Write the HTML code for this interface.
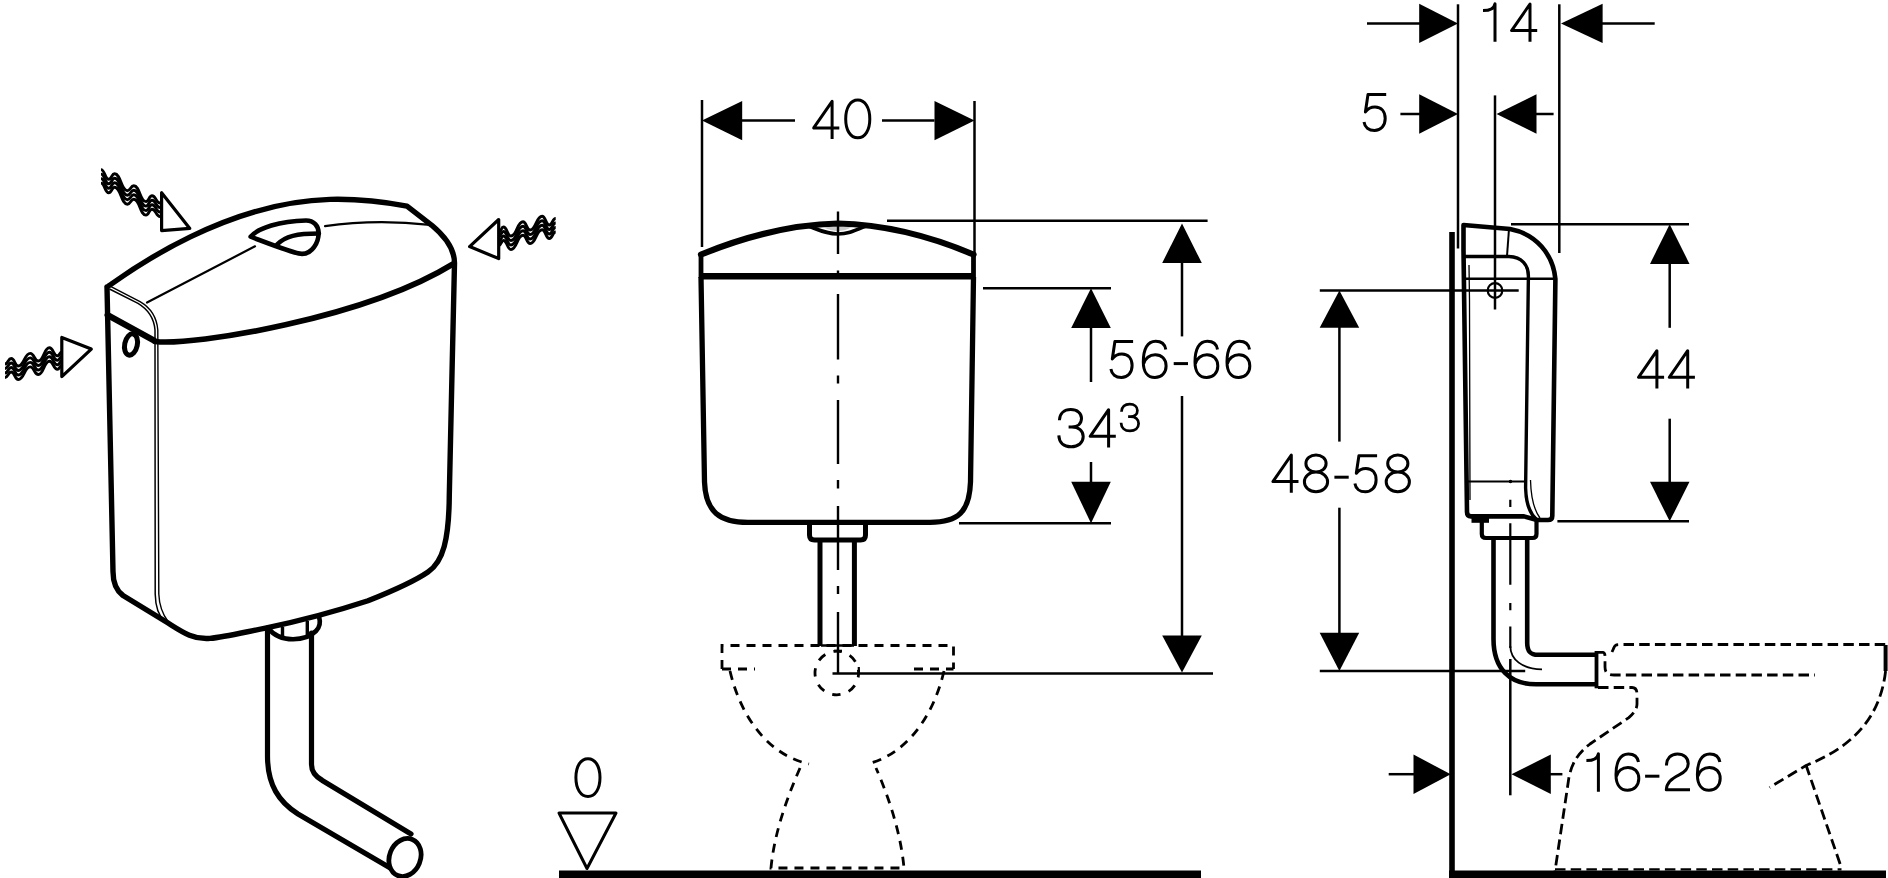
<!DOCTYPE html>
<html><head><meta charset="utf-8"><style>
html,body{margin:0;padding:0;background:#fff;}
svg{display:block;}
</style></head><body>
<svg width="1888" height="878" viewBox="0 0 1888 878">
<g stroke="#000" fill="none" stroke-linecap="butt">
<line x1="702" y1="100" x2="702" y2="247" stroke-width="2.5"/>
<line x1="974.5" y1="101" x2="974.5" y2="254" stroke-width="2.5"/>
<polygon points="702,120.6 742.2,100.9 742.2,140.2" fill="#000" stroke="none"/>
<polygon points="974.5,120.6 934.5,100.9 934.5,140.2" fill="#000" stroke="none"/>
<line x1="742" y1="120.6" x2="795" y2="120.6" stroke-width="2.5"/>
<line x1="882" y1="120.6" x2="934.5" y2="120.6" stroke-width="2.5"/>
<path transform="translate(812,99.6) scale(1.0)" d="M20.1,39.4 V1.7 L1.7,28.3 H27.3" stroke-width="3" stroke-linejoin="round" fill="none"/>
<path transform="translate(844.1,99.3) scale(1.0)" d="M13.7,0.7 C20.9,0.7 25.7,8.3 25.7,19.6 C25.7,30.9 20.9,38.5 13.7,38.5 C6.4,38.5 1.6,30.9 1.6,19.6 C1.6,8.3 6.4,0.7 13.7,0.7 Z" stroke-width="3" stroke-linejoin="round" fill="none"/>
<path d="M701,278 L701,256" stroke-width="4.8" />
<path d="M973.5,278 L973.5,256" stroke-width="4.8" />
<path d="M701,254.5 C745,236.5 790,224.5 838,223.5 C886,224.5 931,236.5 973.5,254.5" stroke-width="6.2" stroke-linejoin="round" stroke-linecap="round"/>
<path d="M822,227 C830,230 834,231 838,231 C842,231 846,230 852,227 Z" fill="#c8c8c8" stroke="none"/>
<path d="M808,226 C822,231 828,234 838,234 C848,234 854,231 866,226" stroke-width="3.6" />
<line x1="700" y1="276.2" x2="975" y2="276.2" stroke-width="6.4"/>
<path d="M701,277 L704.5,482 C705.5,512 720,522.3 748,522.3 L930,522.3 C958,522.3 969.5,512 970.5,482 L973.5,277" stroke-width="5.3" />
<path d="M838,211.6 L838,254 M838,270.5 L838,278 M838,294 L838,359.5 M838,375.4 L838,383.6 M838,400 L838,464 M838,480 L838,488.5 M838,506 L838,570 M838,586 L838,594 M838,612 L838,673.5" stroke-width="2.4"/>
<path d="M809.5,522 L809.5,535 Q809.5,540 814.5,540 L860.5,540 Q865.5,540 865.5,535 L865.5,522" stroke-width="5" />
<line x1="820" y1="541" x2="820" y2="646" stroke-width="5"/>
<line x1="854.4" y1="541" x2="854.4" y2="646" stroke-width="5"/>
<path d="M722,669 L722,645.5 L953.5,645.5 L953.5,669" stroke-width="2.8" stroke-dasharray="9 7" fill="none"/>
<path d="M722,669 L755,669" stroke-width="2.8" stroke-dasharray="9 7" fill="none"/>
<path d="M914,669 L953.5,669" stroke-width="2.8" stroke-dasharray="9 7" fill="none"/>
<path d="M730,671 C742,722 772,756 809,764" stroke-width="2.8" stroke-dasharray="9 7" fill="none"/>
<path d="M944,671 C932,722 902,756 867,764" stroke-width="2.8" stroke-dasharray="9 7" fill="none"/>
<path d="M800,768 C786,800 774,835 771,868 L904,868 C901,835 890,800 876,768" stroke-width="2.8" stroke-dasharray="9 7" fill="none"/>
<circle cx="836.8" cy="673" r="21.8" stroke-width="2.8" stroke-dasharray="8.5 8.6" stroke-dashoffset="4" fill="none"/>
<line x1="832.5" y1="673.5" x2="1213" y2="673.5" stroke-width="2.5"/>
<line x1="821" y1="645.5" x2="854" y2="645.5" stroke-width="2.4"/>
<line x1="834" y1="651" x2="842" y2="651" stroke-width="2.6"/>
<line x1="858.8" y1="667" x2="858.8" y2="674" stroke-width="2.2"/>
<rect x="559" y="870.5" width="642" height="8" fill="#000" stroke="none"/>
<polygon points="559,813 616,813 587,868.5" fill="none" stroke-width="3" stroke-linejoin="round"/>
<path transform="translate(574.3,758) scale(1.0)" d="M13.7,0.7 C20.9,0.7 25.7,8.3 25.7,19.6 C25.7,30.9 20.9,38.5 13.7,38.5 C6.4,38.5 1.6,30.9 1.6,19.6 C1.6,8.3 6.4,0.7 13.7,0.7 Z" stroke-width="3" stroke-linejoin="round" fill="none"/>
<line x1="887" y1="220.8" x2="1207.6" y2="220.8" stroke-width="2.5"/>
<polygon points="1182,223.5 1162.2,263 1201.8,263" fill="#000" stroke="none"/>
<line x1="1182" y1="262" x2="1182" y2="336.4" stroke-width="2.5"/>
<line x1="1182" y1="396" x2="1182" y2="636" stroke-width="2.5"/>
<polygon points="1182,672.4 1162.2,635.4 1201.8,635.4" fill="#000" stroke="none"/>
<path transform="translate(1109.3,339.7) scale(1.0)" d="M23.8,1.8 H5.6 L3,19.3 C5.4,15.9 8.9,14.4 12.6,14.4 C19,14.4 22.8,19 22.8,25.9 C22.8,33.2 18.3,37.8 12.1,37.8 C6.4,37.8 2.4,34.6 1.6,29.4" stroke-width="3" stroke-linejoin="round" fill="none"/>
<path transform="translate(1141.5,339.7) scale(1.0)" d="M24.3,9.7 C23.4,4.6 19.6,1.6 14.2,1.6 C5.9,1.6 1.8,9.4 1.8,22.4 C1.8,32.6 6.4,37.9 13.4,37.9 C20.2,37.9 24.6,33 24.6,26.3 C24.6,19.4 20.2,15.1 13.7,15.1 C8.2,15.1 3.4,18.6 2.2,24" stroke-width="3" stroke-linejoin="round" fill="none"/>
<path transform="translate(1173.7,339.7) scale(1.0)" d="M0,23.9 H14.3" stroke-width="3" stroke-linejoin="round" fill="none"/>
<path transform="translate(1193.2,339.7) scale(1.0)" d="M24.3,9.7 C23.4,4.6 19.6,1.6 14.2,1.6 C5.9,1.6 1.8,9.4 1.8,22.4 C1.8,32.6 6.4,37.9 13.4,37.9 C20.2,37.9 24.6,33 24.6,26.3 C24.6,19.4 20.2,15.1 13.7,15.1 C8.2,15.1 3.4,18.6 2.2,24" stroke-width="3" stroke-linejoin="round" fill="none"/>
<path transform="translate(1225.2,339.7) scale(1.0)" d="M24.3,9.7 C23.4,4.6 19.6,1.6 14.2,1.6 C5.9,1.6 1.8,9.4 1.8,22.4 C1.8,32.6 6.4,37.9 13.4,37.9 C20.2,37.9 24.6,33 24.6,26.3 C24.6,19.4 20.2,15.1 13.7,15.1 C8.2,15.1 3.4,18.6 2.2,24" stroke-width="3" stroke-linejoin="round" fill="none"/>
<line x1="983" y1="288.2" x2="1111" y2="288.2" stroke-width="2.5"/>
<polygon points="1091,288.2 1071.2,328 1110.8,328" fill="#000" stroke="none"/>
<line x1="1091" y1="328" x2="1091" y2="382" stroke-width="2.5"/>
<line x1="1091" y1="462" x2="1091" y2="482" stroke-width="2.5"/>
<polygon points="1091,523.3 1071.2,481.7 1110.8,481.7" fill="#000" stroke="none"/>
<line x1="959" y1="523.3" x2="1111" y2="523.3" stroke-width="2.5"/>
<path transform="translate(1057.2,408) scale(1.0)" d="M2.2,12.2 C2.5,5.4 7,1.6 13.6,1.6 C20.2,1.6 24.3,5.4 24.3,10.3 C24.3,15.6 20.4,18.9 14.6,18.9 H11.4 M14.6,18.9 C21.6,18.9 26,22.8 26,28.6 C26,34.8 21,38.8 14,38.8 C6.6,38.8 1.9,34.6 1.6,27.4" stroke-width="3" stroke-linejoin="round" fill="none"/>
<path transform="translate(1088.5,408) scale(1.0)" d="M20.1,39.4 V1.7 L1.7,28.3 H27.3" stroke-width="3" stroke-linejoin="round" fill="none"/>
<path transform="translate(1119.9,403) scale(0.72)" d="M2.2,12.2 C2.5,5.4 7,1.6 13.6,1.6 C20.2,1.6 24.3,5.4 24.3,10.3 C24.3,15.6 20.4,18.9 14.6,18.9 H11.4 M14.6,18.9 C21.6,18.9 26,22.8 26,28.6 C26,34.8 21,38.8 14,38.8 C6.6,38.8 1.9,34.6 1.6,27.4" stroke-width="3.8" stroke-linejoin="round" fill="none"/>
<line x1="1452" y1="232" x2="1452" y2="873" stroke-width="5.6"/>
<rect x="1449" y="870.5" width="437" height="8" fill="#000" stroke="none"/>
<line x1="1458" y1="4.3" x2="1458" y2="248.5" stroke-width="2.5"/>
<line x1="1495" y1="95.4" x2="1495" y2="309.5" stroke-width="2.5"/>
<line x1="1559.3" y1="4.3" x2="1559.3" y2="253" stroke-width="2.5"/>
<line x1="1367" y1="23.4" x2="1420" y2="23.4" stroke-width="2.5"/>
<polygon points="1458,23.4 1419.2,3.8 1419.2,43" fill="#000" stroke="none"/>
<polygon points="1561,23.4 1602.6,3.8 1602.6,43" fill="#000" stroke="none"/>
<line x1="1602" y1="23.4" x2="1654.7" y2="23.4" stroke-width="2.5"/>
<path transform="translate(1483,2.3) scale(1.0)" d="M12,39.4 V1.4 C11.2,6.5 7.5,8.3 0,8.3" stroke-width="3" stroke-linejoin="round" fill="none"/>
<path transform="translate(1509.9,2.3) scale(1.0)" d="M20.1,39.4 V1.7 L1.7,28.3 H27.3" stroke-width="3" stroke-linejoin="round" fill="none"/>
<line x1="1400.4" y1="114" x2="1420" y2="114" stroke-width="2.5"/>
<polygon points="1458,114 1419.2,94.3 1419.2,133.7" fill="#000" stroke="none"/>
<polygon points="1496.5,114 1536.5,94.3 1536.5,133.7" fill="#000" stroke="none"/>
<line x1="1536" y1="114" x2="1553.6" y2="114" stroke-width="2.5"/>
<path transform="translate(1362.4,92.7) scale(1.0)" d="M23.8,1.8 H5.6 L3,19.3 C5.4,15.9 8.9,14.4 12.6,14.4 C19,14.4 22.8,19 22.8,25.9 C22.8,33.2 18.3,37.8 12.1,37.8 C6.4,37.8 2.4,34.6 1.6,29.4" stroke-width="3" stroke-linejoin="round" fill="none"/>
<line x1="1511" y1="224.2" x2="1689" y2="224.2" stroke-width="2.5"/>
<polygon points="1669.7,224.2 1650,263.9 1689.5,263.9" fill="#000" stroke="none"/>
<line x1="1669.7" y1="263" x2="1669.7" y2="327.8" stroke-width="2.5"/>
<line x1="1669.7" y1="418.7" x2="1669.7" y2="482" stroke-width="2.5"/>
<polygon points="1669.7,521.3 1650,481.8 1689.5,481.8" fill="#000" stroke="none"/>
<line x1="1557.4" y1="521.3" x2="1689" y2="521.3" stroke-width="2.5"/>
<path transform="translate(1636.8,349) scale(1.0)" d="M20.1,39.4 V1.7 L1.7,28.3 H27.3" stroke-width="3" stroke-linejoin="round" fill="none"/>
<path transform="translate(1667.6,349) scale(1.0)" d="M20.1,39.4 V1.7 L1.7,28.3 H27.3" stroke-width="3" stroke-linejoin="round" fill="none"/>
<line x1="1319.8" y1="290.6" x2="1518.7" y2="290.6" stroke-width="2.5"/>
<line x1="1319.8" y1="671" x2="1525.2" y2="671" stroke-width="2.5"/>
<polygon points="1339.4,290.6 1319.7,327.8 1359.2,327.8" fill="#000" stroke="none"/>
<line x1="1339.4" y1="327" x2="1339.4" y2="441.6" stroke-width="2.5"/>
<line x1="1339.4" y1="507.7" x2="1339.4" y2="633" stroke-width="2.5"/>
<polygon points="1339.4,671 1319.7,632.7 1359.2,632.7" fill="#000" stroke="none"/>
<path transform="translate(1271.2,453.3) scale(1.0)" d="M20.1,39.4 V1.7 L1.7,28.3 H27.3" stroke-width="3" stroke-linejoin="round" fill="none"/>
<path transform="translate(1302.8,453.3) scale(1.0)" d="M13.2,1.6 C18.9,1.6 23.3,5.4 23.3,10.2 C23.3,15 18.9,18.8 13.2,18.8 C7.5,18.8 3.1,15 3.1,10.2 C3.1,5.4 7.5,1.6 13.2,1.6 Z M13.2,18.8 C19.7,18.8 24.8,23.1 24.8,28.6 C24.8,34.1 19.7,38.4 13.2,38.4 C6.7,38.4 1.6,34.1 1.6,28.6 C1.6,23.1 6.7,18.8 13.2,18.8 Z" stroke-width="3" stroke-linejoin="round" fill="none"/>
<path transform="translate(1334.4,453.3) scale(1.0)" d="M0,23.9 H14.3" stroke-width="3" stroke-linejoin="round" fill="none"/>
<path transform="translate(1353.3,454) scale(1.0)" d="M23.8,1.8 H5.6 L3,19.3 C5.4,15.9 8.9,14.4 12.6,14.4 C19,14.4 22.8,19 22.8,25.9 C22.8,33.2 18.3,37.8 12.1,37.8 C6.4,37.8 2.4,34.6 1.6,29.4" stroke-width="3" stroke-linejoin="round" fill="none"/>
<path transform="translate(1384.6,453.3) scale(1.0)" d="M13.2,1.6 C18.9,1.6 23.3,5.4 23.3,10.2 C23.3,15 18.9,18.8 13.2,18.8 C7.5,18.8 3.1,15 3.1,10.2 C3.1,5.4 7.5,1.6 13.2,1.6 Z M13.2,18.8 C19.7,18.8 24.8,23.1 24.8,28.6 C24.8,34.1 19.7,38.4 13.2,38.4 C6.7,38.4 1.6,34.1 1.6,28.6 C1.6,23.1 6.7,18.8 13.2,18.8 Z" stroke-width="3" stroke-linejoin="round" fill="none"/>
<line x1="1388.7" y1="774.2" x2="1414" y2="774.2" stroke-width="2.5"/>
<polygon points="1450.7,774.2 1413.5,754.6 1413.5,793.9" fill="#000" stroke="none"/>
<line x1="1510.3" y1="659" x2="1510.3" y2="795.3" stroke-width="2.5"/>
<polygon points="1511.5,774.2 1550.8,754.6 1550.8,793.9" fill="#000" stroke="none"/>
<line x1="1550" y1="774.2" x2="1562.4" y2="774.2" stroke-width="2.5"/>
<path transform="translate(1586.4,752.3) scale(1.0)" d="M12,39.4 V1.4 C11.2,6.5 7.5,8.3 0,8.3" stroke-width="3" stroke-linejoin="round" fill="none"/>
<path transform="translate(1614.2,752.3) scale(1.0)" d="M24.3,9.7 C23.4,4.6 19.6,1.6 14.2,1.6 C5.9,1.6 1.8,9.4 1.8,22.4 C1.8,32.6 6.4,37.9 13.4,37.9 C20.2,37.9 24.6,33 24.6,26.3 C24.6,19.4 20.2,15.1 13.7,15.1 C8.2,15.1 3.4,18.6 2.2,24" stroke-width="3" stroke-linejoin="round" fill="none"/>
<path transform="translate(1645.1,752.3) scale(1.0)" d="M0,23.9 H14.3" stroke-width="3" stroke-linejoin="round" fill="none"/>
<path transform="translate(1664.6,752.3) scale(1.0)" d="M1.9,13.3 C1.9,6.2 6.3,1.6 12.8,1.6 C19.4,1.6 23.6,5.8 23.6,11.4 C23.6,16.6 20.5,19.6 14.6,22.6 C6.3,26.8 2.2,30.6 1.7,37.5 H25.4" stroke-width="3" stroke-linejoin="round" fill="none"/>
<path transform="translate(1695.6,752.3) scale(1.0)" d="M24.3,9.7 C23.4,4.6 19.6,1.6 14.2,1.6 C5.9,1.6 1.8,9.4 1.8,22.4 C1.8,32.6 6.4,37.9 13.4,37.9 C20.2,37.9 24.6,33 24.6,26.3 C24.6,19.4 20.2,15.1 13.7,15.1 C8.2,15.1 3.4,18.6 2.2,24" stroke-width="3" stroke-linejoin="round" fill="none"/>
<path d="M1463.5,250 L1463.5,225 L1510,229 C1536,234 1553,254 1555.4,279 L1552.3,516 Q1552.3,520 1548,520 L1537,520 L1524,516.4 L1471,516.4 Q1467,516.4 1467,512 L1463.5,250" stroke-width="4.6" stroke-linejoin="round"/>
<path d="M1463.5,256.5 L1509,256.5 C1522,257 1528.4,265 1528.4,276 L1525.6,488 C1526,505 1530,514 1537,520" stroke-width="3.4" />
<path d="M1469,265 L1469.5,300 L1470,500" stroke-width="1.3" />
<path d="M1530.5,480 C1531,500 1534,510 1540,518" stroke-width="1.3" />
<line x1="1509" y1="229" x2="1507" y2="256" stroke-width="2"/>
<line x1="1463.5" y1="278.8" x2="1555.4" y2="278.8" stroke-width="2.6"/>
<circle cx="1495" cy="290.5" r="7.3" stroke-width="2.2" fill="none"/>
<line x1="1467" y1="481.5" x2="1525" y2="481.5" stroke-width="1.8"/>
<circle cx="1510.5" cy="481.5" r="1.8" fill="#000" stroke="none"/>
<rect x="1471.5" y="517" width="17.5" height="5.8" fill="#000" stroke="none"/>
<path d="M1510.3,499.7 L1510.3,506.9 M1510.3,523.3 L1510.3,584.7 M1510.3,602.9 L1510.3,610.2 M1510.3,626.6 L1510.3,648" stroke-width="2.2"/>
<path d="M1510.3,646 C1510.5,660 1522,668.5 1542,669.4" stroke-width="1.8" />
<path d="M1481.8,520 L1481.8,534 Q1481.8,538 1486,538 L1532.5,538 Q1536.5,538 1536.5,534 L1536.5,520" stroke-width="4.2" />
<path d="M1493.5,538 L1493.5,639 C1493.5,669 1510,684.3 1536,684.3 L1596,684.3" stroke-width="4.6" />
<path d="M1527.2,538 L1527.2,643 C1527.2,651 1530,654.8 1538,654.8 L1596,654.8" stroke-width="4.6" />
<rect x="1594.6" y="651" width="3.8" height="37.3" fill="#000" stroke="none"/>
<path d="M1612,652 L1614,647.5 C1614.5,645.5 1616,644.5 1619,644.5 L1888,644.5" stroke-width="2.8" stroke-dasharray="10.5 5.2" fill="none"/>
<path d="M1597,652.4 L1603,652.4 C1604.6,652.6 1605,654 1605,657 L1605,667 C1605,673 1608,675 1614,675 L1815,675" stroke-width="2.8" stroke-dasharray="10.5 5.2" fill="none"/>
<line x1="1885.6" y1="645" x2="1885.6" y2="671" stroke-width="4"/>
<path d="M1885.6,671 C1880,720 1850,748 1806,765.5 L1769.5,787.5" stroke-width="2.8" stroke-dasharray="10.5 5.2" fill="none"/>
<path d="M1806,765 L1841.5,868" stroke-width="2.8" stroke-dasharray="10.5 5.2" fill="none"/>
<path d="M1598,687.5 L1632,687.5 C1636,687.5 1637,690 1637,695 L1637,704 C1637,709 1634,713 1628.8,717.6 L1590,744 C1578,753 1572,763 1569,777 L1555,871" stroke-width="2.8" stroke-dasharray="10.5 5.2" fill="none"/>
<path d="M1555,869.4 L1841.5,869.4" stroke-width="2.4" stroke-dasharray="10.5 5.2" fill="none"/>
<path d="M107,287 C112,284.5 215,202.5 330,199.4 C355,198.8 385,202 407,206.2 L431.8,225.3 C447,238 454.5,250 454.5,263 L452.3,360 L449.3,495 C449,540 443,562 428,572 C412,583 385,594 368,600.8 C340,610 300,621 265.4,628.1 C245,632 225,637 210,638.4 C192,640 180,630.3 165.6,621.5 L123,595.5 C116.5,590.5 113,583 113,571.4 L107,287" stroke-width="5.4" stroke-linejoin="round" stroke-linecap="round"/>
<path d="M155,341.5 C193.4,346.2 364.9,318.2 453,264" stroke-width="5.6" stroke-linejoin="round" stroke-linecap="round"/>
<path d="M107.5,315 L154,340.5" stroke-width="6" stroke-linejoin="round" stroke-linecap="round"/>
<path d="M109.5,289 L138,303.4 C149,310 154,318 155,330 L155.2,594 C155.5,608 159,616 164.5,621" stroke-width="1.5" fill="none"/>
<path d="M111,286.6 L140,301.6 C151,308 156.8,317 157.8,330 L158.8,594 C159.3,606 162.5,614 168,621.5" stroke-width="1.4" fill="none"/>
<path d="M147,302.5 L255,246.3" stroke-width="2.2" stroke-linejoin="round" stroke-linecap="round"/>
<path d="M325,226.2 C360,221 395,221 430,224.8" stroke-width="2.2" stroke-linejoin="round" stroke-linecap="round"/>
<path d="M250.6,236.7 C258,228 280,221 306,220.5 C314,220.5 318.6,226 318.6,233 C318.6,243 312,253.9 302,253.9 C295,253.9 270,244 250.6,236.7 Z" stroke-width="4.6" stroke-linejoin="round" stroke-linecap="round"/>
<path d="M277,244.6 C285,236 297,233.5 319,233.5" stroke-width="4.4" stroke-linejoin="round" stroke-linecap="round"/>
<ellipse cx="131" cy="344.5" rx="6.3" ry="10.8" stroke-width="5" fill="none" transform="rotate(12 131 344.5)"/>
<path d="M268,628 C275,637 285,639.2 293,639.2 C302,639.2 310,637 316,631 C320,627 320.5,622 319.2,617.5" stroke-width="4.6" stroke-linejoin="round" stroke-linecap="round"/>
<line x1="282.5" y1="627" x2="282.5" y2="636" stroke-width="3.4"/>
<line x1="307.3" y1="621" x2="307.3" y2="636" stroke-width="3.4"/>
<path d="M267.5,628 L267.5,756 C267.5,785 279,802 298,814 L392,869" stroke-width="5.2" stroke-linejoin="round" stroke-linecap="round"/>
<path d="M311.5,633 L311.5,764.6 C311.5,772 316,777 322.3,780.4 L411,834" stroke-width="5.2" stroke-linejoin="round" stroke-linecap="round"/>
<ellipse cx="405" cy="857.5" rx="15.5" ry="19.5" stroke-width="4.8" fill="#fff" transform="rotate(22 405 857.5)"/>
<path d="M101,169.6 C104.8,169.6 104.8,179.3 108.7,179.3 C111.7,179.3 111.7,173.8 114.6,173.8 C121,173.8 121,190.7 127.4,190.7 C130.6,190.7 130.6,185.7 133.8,185.7 C139.9,185.7 139.9,201.6 146,201.6 C149,201.6 149,195.7 152,195.7 C156,195.7 156,203 160,203" stroke-width="2.9" fill="none"/>
<path d="M101,174.1 C104.8,174.1 104.8,183.8 108.7,183.8 C111.7,183.8 111.7,178.3 114.6,178.3 C121,178.3 121,195.2 127.4,195.2 C130.6,195.2 130.6,190.2 133.8,190.2 C139.9,190.2 139.9,206.1 146,206.1 C149,206.1 149,200.2 152,200.2 C156,200.2 156,207.5 160,207.5" stroke-width="2.9" fill="none"/>
<path d="M101,178.6 C104.8,178.6 104.8,188.3 108.7,188.3 C111.7,188.3 111.7,182.8 114.6,182.8 C121,182.8 121,199.7 127.4,199.7 C130.6,199.7 130.6,194.7 133.8,194.7 C139.9,194.7 139.9,210.6 146,210.6 C149,210.6 149,204.7 152,204.7 C156,204.7 156,212 160,212" stroke-width="2.9" fill="none"/>
<path d="M101,183.1 C104.8,183.1 104.8,192.8 108.7,192.8 C111.7,192.8 111.7,187.3 114.6,187.3 C121,187.3 121,204.2 127.4,204.2 C130.6,204.2 130.6,199.2 133.8,199.2 C139.9,199.2 139.9,215.1 146,215.1 C149,215.1 149,209.2 152,209.2 C156,209.2 156,216.5 160,216.5" stroke-width="2.9" fill="none"/>
<polygon points="161.6,192.8 161.6,230.6 189.8,228.4" fill="none" stroke-width="3.2" stroke-linejoin="round"/>
<path d="M499,232 C501.2,232 501.2,227 503.4,227 C507.2,227 507.2,236 511,236 C517,236 517,221.8 523,221.8 C526.5,221.8 526.5,230 530.1,230 C536.1,230 536.1,216.2 542.1,216.2 C545.7,216.2 545.7,225 549.3,225 C552.5,225 552.5,218.5 555.7,218.5" stroke-width="2.9" fill="none"/>
<path d="M499,236.5 C501.2,236.5 501.2,231.5 503.4,231.5 C507.2,231.5 507.2,240.5 511,240.5 C517,240.5 517,226.3 523,226.3 C526.5,226.3 526.5,234.5 530.1,234.5 C536.1,234.5 536.1,220.7 542.1,220.7 C545.7,220.7 545.7,229.5 549.3,229.5 C552.5,229.5 552.5,223 555.7,223" stroke-width="2.9" fill="none"/>
<path d="M499,241 C501.2,241 501.2,236 503.4,236 C507.2,236 507.2,245 511,245 C517,245 517,230.8 523,230.8 C526.5,230.8 526.5,239 530.1,239 C536.1,239 536.1,225.2 542.1,225.2 C545.7,225.2 545.7,234 549.3,234 C552.5,234 552.5,227.5 555.7,227.5" stroke-width="2.9" fill="none"/>
<path d="M499,245.5 C501.2,245.5 501.2,240.5 503.4,240.5 C507.2,240.5 507.2,249.5 511,249.5 C517,249.5 517,235.3 523,235.3 C526.5,235.3 526.5,243.5 530.1,243.5 C536.1,243.5 536.1,229.7 542.1,229.7 C545.7,229.7 545.7,238.5 549.3,238.5 C552.5,238.5 552.5,232 555.7,232" stroke-width="2.9" fill="none"/>
<polygon points="498.7,219.5 469.6,246.6 498.7,258.6" fill="none" stroke-width="3.2" stroke-linejoin="round"/>
<path d="M5,364 C8.1,364 8.1,358.5 11.2,358.5 C14.8,358.5 14.8,366 18.3,366 C24.3,366 24.3,353.4 30.3,353.4 C34.3,353.4 34.3,361 38.3,361 C43.8,361 43.8,347.8 49.4,347.8 C53.4,347.8 53.4,355.8 57.4,355.8 C59.6,355.8 59.6,352 61.8,352" stroke-width="2.9" fill="none"/>
<path d="M5,368.5 C8.1,368.5 8.1,363 11.2,363 C14.8,363 14.8,370.5 18.3,370.5 C24.3,370.5 24.3,357.9 30.3,357.9 C34.3,357.9 34.3,365.5 38.3,365.5 C43.8,365.5 43.8,352.3 49.4,352.3 C53.4,352.3 53.4,360.3 57.4,360.3 C59.6,360.3 59.6,356.5 61.8,356.5" stroke-width="2.9" fill="none"/>
<path d="M5,373 C8.1,373 8.1,367.5 11.2,367.5 C14.8,367.5 14.8,375 18.3,375 C24.3,375 24.3,362.4 30.3,362.4 C34.3,362.4 34.3,370 38.3,370 C43.8,370 43.8,356.8 49.4,356.8 C53.4,356.8 53.4,364.8 57.4,364.8 C59.6,364.8 59.6,361 61.8,361" stroke-width="2.9" fill="none"/>
<path d="M5,377.5 C8.1,377.5 8.1,372 11.2,372 C14.8,372 14.8,379.5 18.3,379.5 C24.3,379.5 24.3,366.9 30.3,366.9 C34.3,366.9 34.3,374.5 38.3,374.5 C43.8,374.5 43.8,361.3 49.4,361.3 C53.4,361.3 53.4,369.3 57.4,369.3 C59.6,369.3 59.6,365.5 61.8,365.5" stroke-width="2.9" fill="none"/>
<polygon points="61.8,337.5 61.8,376.6 91.3,349.1" fill="none" stroke-width="3.2" stroke-linejoin="round"/>
</g></svg></body></html>
